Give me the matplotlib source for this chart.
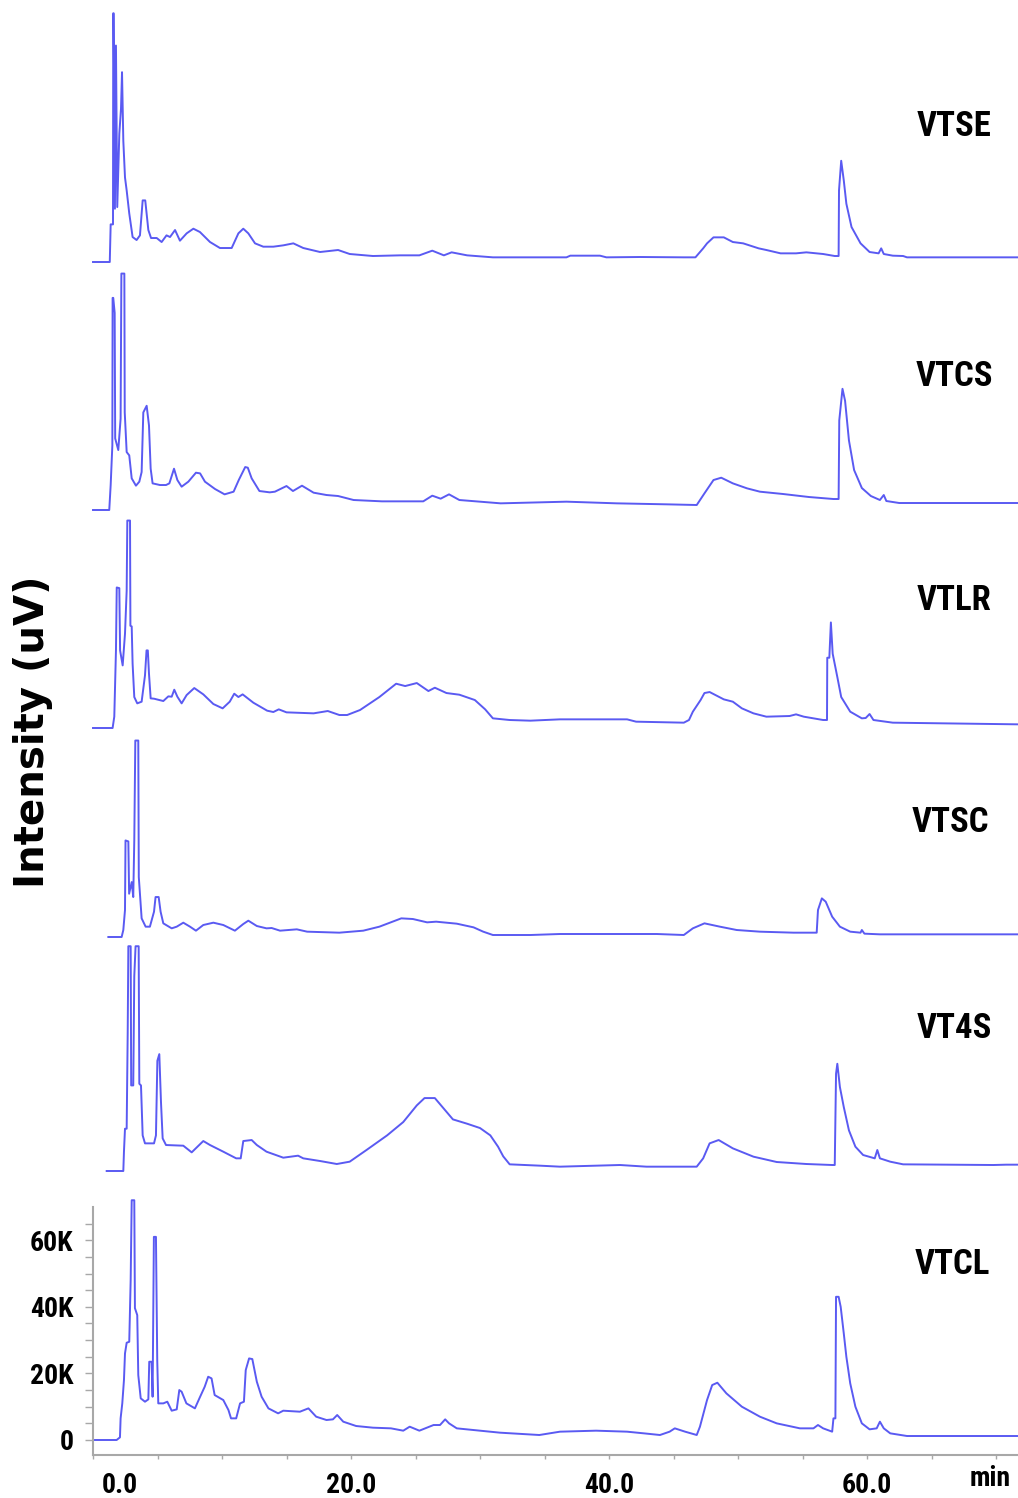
import numpy as np
import matplotlib.pyplot as plt
import matplotlib.transforms as mtransforms
from matplotlib.ticker import FixedLocator, MultipleLocator, FuncFormatter
from matplotlib import font_manager

# chromatogram traces: (retention time in min, intensity in K uV)
vtse = np.array([
    (0, 0), (1.3, 0), (1.37, 11.3), (1.55, 11.3), (1.57, 74.7), (1.6, 74.7), (1.7, 16), (1.78, 65),
    (1.88, 16.5), (2.04, 38.5), (2.17, 46), (2.25, 57), (2.35, 36.4), (2.48, 25.4), (2.61, 21.5),
    (2.81, 14.6), (3.07, 7.5), (3.38, 6.6), (3.64, 8), (3.85, 18.5), (4.05, 18.5), (4.29, 9.6),
    (4.5, 7.2), (4.94, 7.2), (5.32, 6), (5.7, 8), (5.97, 7.5), (6.36, 9.6), (6.74, 6.4), (7.26, 8.6),
    (7.78, 10), (8.29, 9), (9.07, 6), (9.84, 4.2), (10.75, 4.2), (11.27, 8.6), (11.65, 10),
    (12.04, 8.6), (12.56, 5.6), (13.2, 4.6), (13.98, 4.6), (14.75, 5), (15.53, 5.6), (16.3, 4.2),
    (17.6, 3), (19.0, 3.6), (19.9, 2.4), (21.7, 1.8), (23.8, 2), (25.3, 2), (26.3, 3.4), (27.2, 2),
    (27.8, 2.9), (29.0, 2), (31.0, 1.4), (36.7, 1.4), (37.0, 1.9), (39.3, 1.9), (39.8, 1.4),
    (42.4, 1.5), (45.8, 1.4), (46.7, 1.4), (47.3, 4.1), (47.6, 5.6), (48.1, 7.4), (48.9, 7.4),
    (49.6, 6), (50.4, 5.6), (51.6, 4.1), (52.2, 3.6), (53.3, 2.6), (54.5, 2.6), (55.3, 2.9),
    (56.6, 2.4), (57.5, 1.8), (57.8, 1.8), (57.83, 21.5), (58.0, 30.4), (58.2, 24.5), (58.4, 17.5),
    (58.8, 10.5), (59.5, 5.6), (60.2, 3), (60.9, 2.6), (61.1, 4.1), (61.3, 2.4), (62.0, 1.9),
    (62.8, 1.8), (63.1, 1.4), (71.7, 1.4),
])

vtcs = np.array([
    (0, 0), (1.26, 0), (1.37, 7.5), (1.5, 19.4), (1.52, 63.7), (1.57, 63.7), (1.68, 59.2),
    (1.72, 21.5), (1.96, 18), (2.14, 27.4), (2.2, 71), (2.43, 71), (2.46, 29.3), (2.61, 17.4),
    (2.81, 16.4), (3.0, 9.5), (3.33, 7.3), (3.59, 8.5), (3.77, 11.4), (3.9, 29.3), (4.16, 31.3),
    (4.34, 25.4), (4.47, 12.4), (4.62, 8), (5.19, 7.5), (5.66, 7.5), (5.92, 8), (6.28, 12.4),
    (6.54, 9), (6.87, 7), (7.39, 8.5), (7.98, 11.2), (8.3, 11), (8.68, 8.5), (9.46, 6.3),
    (10.2, 4.7), (10.9, 5.5), (11.3, 9), (11.8, 12.9), (12.0, 12.7), (12.3, 9.5), (12.9, 5.7),
    (13.7, 5.3), (14.1, 5.5), (15.0, 7.2), (15.5, 5.7), (16.2, 7.3), (17.1, 5.2), (18.1, 4.5),
    (19.0, 4.2), (20.2, 3), (22.4, 2.6), (25.6, 2.6), (26.3, 4.3), (26.95, 3.4), (27.6, 4.7),
    (28.4, 3), (31.6, 2), (36.7, 2.5), (40.6, 2), (44.5, 1.7), (46.8, 1.5), (47.4, 5), (48.1, 9),
    (48.7, 9.7), (49.6, 8), (50.7, 6.5), (51.7, 5.5), (53.5, 4.8), (55.5, 3.9), (57.4, 3.3),
    (57.8, 3.3), (57.85, 26.9), (58.1, 36.4), (58.3, 32.8), (58.6, 20.9), (59.0, 12), (59.6, 6.6),
    (60.3, 4.2), (61.0, 3), (61.3, 4.5), (61.5, 2.7), (62.5, 2.1), (71.7, 2.1),
])

vtlr = np.array([
    (0, 0), (1.52, 0), (1.65, 3.4), (1.78, 23.3), (1.84, 42.2), (2.04, 42), (2.1, 23.3), (2.3, 18.8),
    (2.48, 28.3), (2.61, 41.2), (2.66, 62.3), (2.87, 62.3), (2.9, 30.7), (3.0, 30.5), (3.07, 19.3),
    (3.2, 9.3), (3.43, 7.4), (3.77, 7.9), (4.03, 15.8), (4.15, 23.3), (4.25, 23.3), (4.34, 16.3),
    (4.47, 8.9), (4.73, 8.8), (5.45, 8.1), (5.84, 9.5), (6.1, 9.4), (6.3, 11.5), (6.54, 9.4),
    (6.87, 7.4), (7.26, 9.9), (7.85, 12), (8.55, 10.1), (9.33, 7.2), (10.05, 5.9), (10.6, 7.9),
    (10.95, 10.3), (11.27, 9.3), (11.6, 10.1), (12.43, 7.6), (13.5, 5.2), (13.98, 4.8), (14.4, 5.6),
    (15.0, 4.7), (17.1, 4.4), (18.2, 5.1), (19.1, 3.9), (19.7, 3.9), (20.7, 5.4), (22.2, 9.3),
    (23.5, 13.3), (24.2, 12.6), (25.1, 13.5), (26.0, 11.1), (26.5, 12.1), (27.4, 10.5), (28.4, 10),
    (29.6, 8.4), (30.4, 5.6), (31.0, 2.9), (32.3, 2.4), (33.9, 2.2), (36.2, 2.6), (41.4, 2.6),
    (42.1, 1.9), (45.8, 1.6), (46.2, 2.4), (46.5, 4.9), (47.1, 8.4), (47.4, 10.5), (47.8, 10.8),
    (48.9, 8.6), (49.6, 7.9), (50.3, 5.9), (51.2, 4.4), (52.2, 3.4), (54.0, 3.6), (54.5, 4.1),
    (55.1, 3.4), (56.6, 2.4), (56.9, 2.4), (56.92, 21.1), (57.08, 21.1), (57.2, 31.7), (57.34, 22.3),
    (57.7, 15.3), (58.0, 9.3), (58.7, 4.9), (59.6, 2.9), (59.9, 3), (60.2, 4.2), (60.5, 2.4),
    (62.0, 1.6), (71.7, 1.1),
])

vtsc = np.array([
    (1.19, 0), (2.22, 0), (2.35, 2.1), (2.48, 8.1), (2.52, 29), (2.74, 28.7), (2.8, 13), (3.0, 16.5),
    (3.12, 12), (3.2, 29), (3.28, 59), (3.51, 59), (3.55, 18), (3.77, 5.6), (4.08, 3.1), (4.41, 3.1),
    (4.73, 7.6), (4.85, 12), (5.09, 12), (5.24, 7.6), (5.45, 4.1), (6.1, 2.6), (6.49, 3.1), (7.0, 4.3),
    (7.52, 3.1), (7.98, 1.9), (8.55, 3.6), (9.33, 4.3), (10.1, 3.6), (11.0, 1.9), (11.65, 3.9),
    (12.04, 4.9), (12.7, 3.3), (13.45, 2.6), (13.85, 2.7), (14.5, 1.9), (15.8, 2.3), (16.6, 1.6),
    (19.1, 1.3), (20.95, 1.9), (22.2, 3.1), (23.9, 5.6), (24.8, 5.4), (25.9, 4.4), (26.6, 4.6),
    (28.2, 4), (29.5, 2.9), (30.25, 1.6), (31.0, 0.6), (33.9, 0.6), (36.2, 0.9), (43.7, 0.9),
    (45.8, 0.6), (46.5, 2.6), (47.4, 4.1), (48.6, 3.1), (49.9, 2.1), (51.7, 1.6), (54.3, 1.3),
    (56.1, 1.3), (56.2, 8.1), (56.5, 11.6), (56.8, 10.6), (57.3, 6.1), (57.9, 3.1), (58.7, 1.6),
    (59.5, 1.3), (59.6, 2.1), (59.8, 1.0), (61.0, 0.8), (71.7, 0.8),
])

vt4s = np.array([
    (1.06, 0), (2.35, 0), (2.4, 5.8), (2.48, 12.7), (2.61, 12.7), (2.69, 41.6), (2.74, 67.5),
    (2.92, 67.5), (2.96, 25.7), (3.12, 25.7), (3.2, 58.5), (3.3, 67.5), (3.54, 67.5), (3.59, 26.2),
    (3.72, 25.7), (3.85, 10.7), (4.03, 8.3), (4.73, 8.3), (4.88, 10.7), (4.99, 33.1), (5.14, 35.1),
    (5.27, 20.7), (5.4, 9.8), (5.66, 7.8), (7.0, 7.6), (7.65, 5.6), (8.55, 9), (9.07, 7.8),
    (10.1, 5.8), (11.1, 3.8), (11.45, 3.8), (11.65, 9), (12.3, 9.3), (12.7, 7.8), (13.45, 5.8),
    (14.75, 4), (15.9, 4.6), (16.3, 3.8), (17.6, 3), (18.9, 2.1), (19.9, 2.8), (21.2, 6.3),
    (22.8, 10.7), (24.05, 14.7), (25.1, 19.7), (25.7, 21.9), (26.5, 21.9), (27.2, 18.7),
    (27.9, 15.5), (29.0, 14.2), (30.0, 12.9), (30.8, 10.7), (31.4, 7.3), (31.8, 4.4), (32.3, 2),
    (34.65, 1.6), (36.2, 1.3), (40.85, 1.8), (42.9, 1.3), (46.8, 1.3), (47.3, 3.8), (47.8, 8.3),
    (48.5, 9.3), (49.6, 6.8), (51.2, 4.3), (53.0, 2.7), (55.3, 2.1), (57.3, 1.8), (57.5, 1.8),
    (57.6, 29.2), (57.7, 32.2), (57.9, 25.2), (58.2, 19.2), (58.6, 12.2), (59.1, 7.3), (59.7, 4.8),
    (60.6, 3.8), (60.8, 6.3), (61.0, 3.8), (61.8, 2.8), (62.8, 2), (69.8, 1.8), (70.8, 1.9),
    (71.7, 1.9),
])

vtcl = np.array([
    (0, 0), (1.83, 0), (2.09, 0.8), (2.14, 6.5), (2.27, 11), (2.4, 18), (2.48, 26), (2.61, 29.2),
    (2.81, 29.5), (2.92, 48), (3.0, 72), (3.2, 72), (3.25, 39.6), (3.43, 37.5), (3.51, 19.5),
    (3.7, 12.5), (4.03, 11.5), (4.29, 12.2), (4.36, 23.5), (4.54, 23.5), (4.62, 13), (4.72, 61),
    (4.88, 61), (4.98, 24), (5.06, 11), (5.45, 11), (5.76, 11.5), (6.1, 8.8), (6.49, 9.2),
    (6.69, 15), (6.87, 14.5), (7.24, 11), (7.9, 9.5), (8.27, 12.7), (8.66, 16), (8.93, 19),
    (9.19, 18.5), (9.43, 13.5), (10.1, 12), (10.5, 9), (10.7, 6.5), (11.1, 6.5), (11.4, 11),
    (11.7, 11.5), (11.84, 21), (12.1, 24.5), (12.35, 24.3), (12.7, 17.5), (13.07, 13), (13.6, 9.5),
    (14.35, 8), (14.75, 8.8), (16.04, 8.5), (16.7, 9.5), (17.3, 7), (18.1, 6), (18.6, 6.2),
    (18.93, 7.5), (19.4, 5.5), (20.4, 4.2), (21.7, 3.7), (23.1, 3.5), (24.05, 2.8), (24.55, 4),
    (25.3, 2.8), (26.4, 4.5), (26.9, 4.5), (27.3, 6.2), (27.6, 5), (28.2, 3.5), (30.0, 2.8),
    (31.55, 2.2), (34.6, 1.5), (36.2, 2.5), (39.0, 2.8), (41.4, 2.5), (42.7, 2), (43.95, 1.5),
    (44.7, 2.5), (45.1, 3.5), (45.9, 2.5), (46.8, 1.5), (47.05, 4), (47.6, 12), (48.0, 16.5),
    (48.4, 17.2), (49.1, 14), (50.3, 10), (51.7, 7), (53.0, 5), (54.8, 3.5), (55.85, 3.5),
    (56.2, 4.5), (56.6, 3.5), (57.3, 2.5), (57.4, 6.5), (57.55, 6.5), (57.6, 43), (57.8, 43),
    (57.96, 40), (58.2, 32), (58.4, 25), (58.7, 17), (59.1, 10), (59.6, 5), (60.2, 3.2),
    (60.75, 3.5), (61.0, 5.5), (61.3, 3.5), (61.8, 2), (63.1, 1.2), (71.7, 1.2),
])

samples = ["VTSE", "VTCS", "VTLR", "VTSC", "VT4S", "VTCL"]
traces = [vtse, vtcs, vtlr, vtsc, vt4s, vtcl]
y_ticks = [0, 20, 40, 60]
x_ticks = [0, 20, 40, 60]

#####################################
# layout (pixels of a 1018x1498 canvas)
W, H = 1018, 1498
X0 = 93
PX_MIN = 12.9
PX_K = 3.33
BELOW, ABOVE = 15, 233
baselines = [262, 510, 728, 937, 1171, 1440]
label_pos = [(954, 127), (954, 376), (954, 601), (950, 823), (954, 1028), (952, 1265)]

# a condensed bold face if one is around, otherwise plain DejaVu Sans
names = {f.name for f in font_manager.fontManager.ttflist}
narrow_fam = "DejaVu Sans"
for cand in ["Liberation Sans Narrow", "DejaVu Sans Condensed", "Roboto Condensed",
             "Open Sans Condensed"]:
    if cand in names:
        narrow_fam = cand
        break
condensed = narrow_fam != "DejaVu Sans"
lab_size = 25 if condensed else 21
tick_size = 20 if condensed else 17

line_color = "#5a5af2"

fig = plt.figure(figsize=(W / 100, H / 100), dpi=100)

axes = []
for name, data, yb, (lx, ly) in zip(samples, traces, baselines, label_pos):
    ax = fig.add_axes([X0 / W, (H - yb - BELOW) / H, (W - X0) / W, (BELOW + ABOVE) / H])
    ax.set_xlim(0, (W - X0) / PX_MIN)
    ax.set_ylim(-BELOW / PX_K, ABOVE / PX_K)
    ax.patch.set_alpha(0)
    ax.plot(data[:, 0], data[:, 1], color=line_color, lw=1.4, clip_on=False)
    ax.axis("off")
    fig.text(lx / W, 1 - ly / H, name, ha="center", va="center",
             fontsize=lab_size, fontweight="bold", family=narrow_fam)
    axes.append(ax)

# bottom panel carries the axes
ax = axes[-1]
ax.axis("on")
for side in ["top", "right"]:
    ax.spines[side].set_visible(False)
for side in ["left", "bottom"]:
    ax.spines[side].set_color("#a8a8a8")
    ax.spines[side].set_linewidth(1.5)

ax.yaxis.set_major_locator(FixedLocator(y_ticks))
ax.yaxis.set_minor_locator(MultipleLocator(5))
ax.yaxis.set_major_formatter(FuncFormatter(lambda v, p: "0" if v == 0 else "%dK" % v))
ax.xaxis.set_major_locator(FixedLocator(x_ticks))
ax.xaxis.set_minor_locator(MultipleLocator(5))
ax.xaxis.set_major_formatter(FuncFormatter(lambda v, p: "%.1f" % v))

ax.tick_params(axis="y", which="both", length=6, width=1, color="#a8a8a8", pad=8)
ax.tick_params(axis="x", which="both", length=3, width=1, color="#a8a8a8", pad=9)
for lbl in ax.get_xticklabels() + ax.get_yticklabels():
    lbl.set_fontsize(tick_size)
    lbl.set_fontweight("bold")
    lbl.set_family(narrow_fam)

# first time label sits a bit right of its tick in the original
offset = mtransforms.ScaledTranslation(0.27, 0, fig.dpi_scale_trans)
first = ax.xaxis.get_major_ticks()[0].label1
first.set_transform(first.get_transform() + offset)

fig.text(990 / W, 1 - 1479 / H, "min", ha="center", va="center",
         fontsize=tick_size, fontweight="bold", family=narrow_fam)
fig.text(33 / W, 1 - 732 / H, "Intensity (uV)", rotation=90, ha="center", va="center",
         fontsize=29, fontweight="bold")

fig.savefig("out.png", dpi=100)
